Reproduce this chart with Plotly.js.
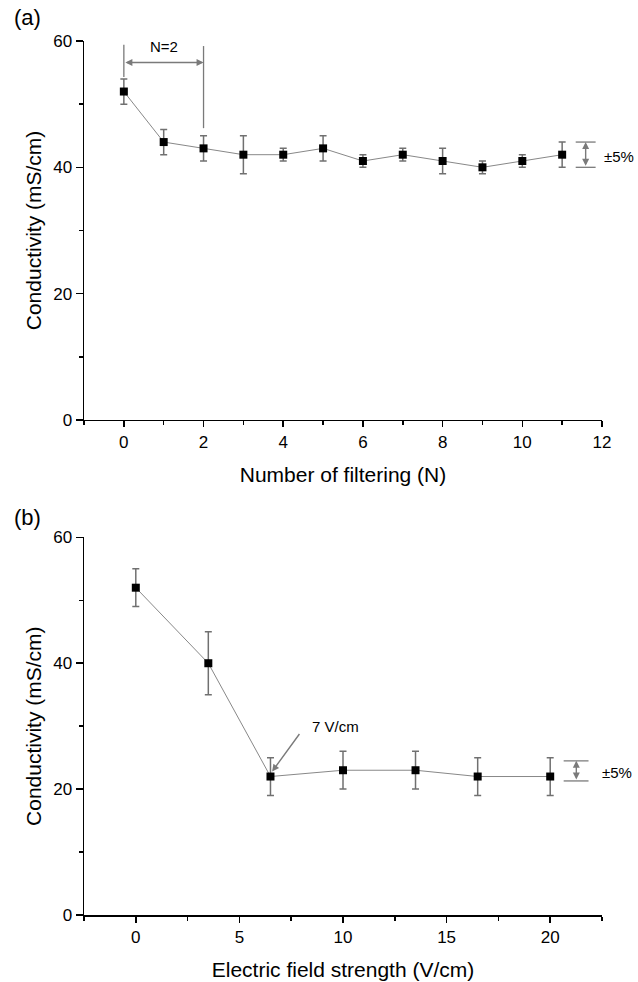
<!DOCTYPE html>
<html>
<head>
<meta charset="utf-8">
<script src="https://cdn.plot.ly/plotly-3.0.1.min.js"></script>
<style>html,body{margin:0;padding:0;background:#fff;}#chart{width:638px;height:982px;}</style>
</head>
<body>
<div id="chart"></div>
<script>
// ---- data ----
const filterN = [0, 1, 2, 3, 4, 5, 6, 7, 8, 9, 10, 11];
const condA = [52, 44, 43, 42, 42, 43, 41, 42, 41, 40, 41, 42];
const errA = [2, 2, 2, 3, 1, 2, 1, 1, 2, 1, 1, 2];

const fieldStrength = [0, 3.5, 6.5, 10, 13.5, 16.5, 20];
const condB = [52, 40, 22, 23, 23, 22, 22];
const errB = [3, 5, 3, 3, 3, 3, 3];

const xTitleA = 'Number of filtering (N)';
const xTitleB = 'Electric field strength (V/cm)';
const yTitle = 'Conductivity (mS/cm)';

// ---- styles ----
const FONT = 'Liberation Sans, Arial, Helvetica, sans-serif';
const GRAY = '#7a7a7a';

function series(x, y, e, xa, ya) {
  return {
    type: 'scatter', mode: 'lines+markers', x: x, y: y, xaxis: xa, yaxis: ya,
    line: {color: '#888888', width: 1},
    marker: {symbol: 'square', size: 8, color: '#000000'},
    error_y: {type: 'data', array: e, visible: true, color: '#707070', thickness: 1.5, width: 3.5},
    cliponaxis: false, showlegend: false, hoverinfo: 'x+y'
  };
}

function xAxis(range, dtick, minorDtick, title, anchor) {
  return {
    range: range, dtick: dtick, tick0: 0, anchor: anchor,
    showline: true, linecolor: '#000', linewidth: 1.5, mirror: false,
    showgrid: false, zeroline: false,
    ticks: 'outside', ticklen: 6, tickwidth: 1.5, tickcolor: '#000',
    minor: {dtick: minorDtick, tick0: 0, ticks: 'outside', ticklen: 4, tickwidth: 1.5, tickcolor: '#000'},
    tickfont: {family: FONT, size: 17, color: '#000'},
    title: {text: title, font: {family: FONT, size: 21, color: '#000'}, standoff: 16}
  };
}
function yAxis(domain, anchor) {
  return {
    range: [0, 60], dtick: 20, tick0: 0, domain: domain, anchor: anchor,
    showline: true, linecolor: '#000', linewidth: 1.5, mirror: false,
    showgrid: false, zeroline: false,
    ticks: 'outside', ticklen: 7, tickwidth: 1.5, tickcolor: '#000',
    minor: {dtick: 10, tick0: 0, ticks: 'outside', ticklen: 4, tickwidth: 1.5, tickcolor: '#000'},
    tickfont: {family: FONT, size: 17, color: '#000'},
    title: {text: yTitle, font: {family: FONT, size: 21, color: '#000'}, standoff: 6}
  };
}

const data = [
  series(filterN, condA, errA, 'x', 'y'),
  series(fieldStrength, condB, errB, 'x2', 'y2')
];

function line(xref, yref, x0, y0, x1, y1) {
  return {type: 'line', xref: xref, yref: yref, x0: x0, y0: y0, x1: x1, y1: y1,
          line: {color: GRAY, width: 1.3}};
}
function arrow(xref, yref, x0, y0, x1, y1, both) {
  return {xref: xref, yref: yref, axref: xref, ayref: yref, x: x1, y: y1, ax: x0, ay: y0,
          text: '', showarrow: true, arrowhead: 2, arrowsize: 1, arrowwidth: 1.4,
          arrowcolor: GRAY, arrowside: both ? 'end+start' : 'end', standoff: 0, startstandoff: 0};
}
function label(xref, yref, x, y, text, size, xanchor) {
  return {xref: xref, yref: yref, x: x, y: y, text: text, showarrow: false,
          xanchor: xanchor || 'center', yanchor: 'middle',
          font: {family: FONT, size: size, color: '#000'}};
}

const layout = {
  width: 638, height: 982,
  margin: {l: 84, r: 36, t: 41, b: 67},
  paper_bgcolor: '#fff', plot_bgcolor: '#fff',
  showlegend: false,
  xaxis: xAxis([-1, 12], 2, 1, xTitleA, 'y'),
  yaxis: yAxis([0.5664, 1], 'x'),
  xaxis2: xAxis([-2.5, 22.5], 5, 2.5, xTitleB, 'y2'),
  yaxis2: yAxis([0, 0.4321], 'x2'),
  shapes: [
    line('x', 'y', 0, 54.3, 0, 59.4),
    line('x', 'y', 2, 46.2, 2, 59.2),
    line('x', 'y', 11.34, 44, 11.84, 44),
    line('x', 'y', 11.34, 40, 11.84, 40),
    line('x2', 'y2', 20.65, 24.5, 21.85, 24.5),
    line('x2', 'y2', 20.65, 21.3, 21.85, 21.3)
  ],
  annotations: [
    arrow('x', 'y', 0, 56.6, 2, 56.6, true),
    label('x', 'y', 1, 59.1, 'N=2', 15),
    arrow('x', 'y', 11.59, 40, 11.59, 44, true),
    label('x', 'y', 12.0, 41.7, '±5%', 15, 'left'),
    arrow('x2', 'y2', 7.95, 29.0, 6.58, 22.8, false),
    label('x2', 'y2', 8.43, 30.0, '7 V/cm', 15, 'left'),
    arrow('x2', 'y2', 21.26, 21.3, 21.26, 24.5, true),
    label('x2', 'y2', 22.4, 22.6, '±5%', 15, 'left'),
    {xref: 'paper', yref: 'paper', x: (12 - 84) / 518, y: (915 - 18) / 874, text: '(a)',
     showarrow: false, xanchor: 'left', yanchor: 'middle', font: {family: FONT, size: 22, color: '#000'}},
    {xref: 'paper', yref: 'paper', x: (12 - 84) / 518, y: (915 - 517) / 874, text: '(b)',
     showarrow: false, xanchor: 'left', yanchor: 'middle', font: {family: FONT, size: 22, color: '#000'}}
  ]
};

Plotly.newPlot('chart', data, layout, {staticPlot: true, displayModeBar: false});
</script>
</body>
</html>
